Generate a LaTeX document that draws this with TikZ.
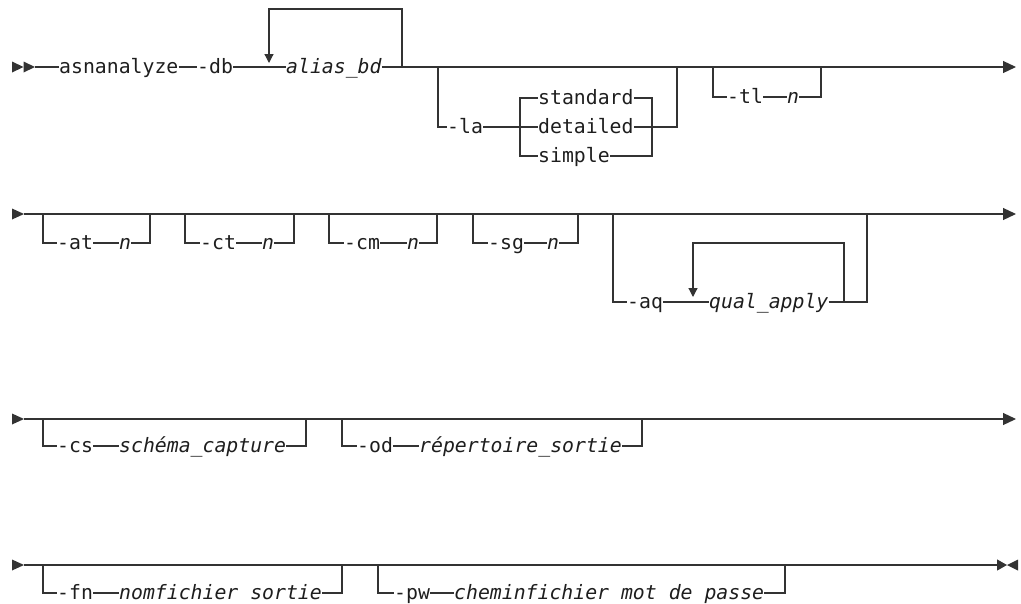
\documentclass[tikz,border=0pt]{standalone}
\usepackage{fontspec}
\usetikzlibrary{arrows.meta}
\newfontfamily\rr{DejaVu Sans Mono}
\definecolor{ln}{RGB}{51,51,51}
\definecolor{tx}{RGB}{30,30,30}
\tikzset{
  lbl/.style={inner sep=0pt, text height=13pt, text depth=0pt, anchor=west,
              font=\rr\fontsize{19.8}{22}\selectfont, text=tx},
  var/.style={lbl, font=\rr\itshape\fontsize{19.8}{22}\selectfont},
  rail/.style={draw=ln, line width=1.2pt},
  endarrow/.style={-{Triangle[length=13pt,width=12pt]}},
  looparrow/.style={-{Triangle[length=9pt,width=9pt]}},
  headtri/.style={fill=ln},
}
\begin{document}
\begin{tikzpicture}[x=1pt,y=-1pt]
\useasboundingbox (0,0) rectangle (1021,603);

% ---------------- row 1 ----------------
\fill[headtri] (12,61.5) -- (23.5,67) -- (12,72.5) -- cycle;
\fill[headtri] (23.5,61.5) -- (35,67) -- (23.5,72.5) -- cycle;
\coordinate (s1) at (35,67);
\coordinate (e1) at (1016,67);
\node[lbl] (asn) at (59,67) {asnanalyze};
\node[lbl] (db) at (197,67) {-db};
\node[var] (alias) at (286,67) {alias\_bd};
\draw[rail] (s1) -- (asn);
\draw[rail] (asn) -- (db);
\draw[rail] (db) -- (alias);
\draw[rail,endarrow] (alias) -- (e1);
% repeat loop
\coordinate (l1r) at (402,67);
\coordinate (l1t) at (269,9);
\coordinate (l1a) at (269,63);
\draw[rail,looparrow] (l1r) |- (l1t) -- (l1a);
% -la branch
\coordinate (la0) at (438,67);
\coordinate (la1) at (677,67);
\node[lbl] (la) at (447,127) {-la};
\coordinate (ch) at (520,127);
\coordinate (chr) at (652,127);
\node[lbl] (std) at (538,98) {standard};
\node[lbl] (det) at (538,127) {detailed};
\node[lbl] (sim) at (538,156) {simple};
\draw[rail] (la0) |- (la);
\draw[rail] (la) -- (ch);
\draw[rail] (std) -| (ch) |- (sim);
\draw[rail] (ch) -- (det);
\draw[rail] (std) -| (chr) |- (sim);
\draw[rail] (det) -- (chr) -| (la1);
% -tl branch
\coordinate (tl0) at (713,67);
\coordinate (tl1) at (821,67);
\node[lbl] (tl) at (727,97) {-tl};
\node[var] (tln) at (787,97) {n};
\draw[rail] (tl0) |- (tl);
\draw[rail] (tl) -- (tln);
\draw[rail] (tln) -| (tl1);

% ---------------- row 2 ----------------
\fill[headtri] (12,208.5) -- (24,214) -- (12,219.5) -- cycle;
\coordinate (s2) at (24,214);
\coordinate (e2) at (1016,214);
\draw[rail,endarrow] (s2) -- (e2);
% -at
\coordinate (at0) at (43,214);
\coordinate (at1) at (150,214);
\node[lbl] (at) at (57,243) {-at};
\node[var] (atn) at (119,243) {n};
\draw[rail] (at0) |- (at);
\draw[rail] (at) -- (atn);
\draw[rail] (atn) -| (at1);
% -ct
\coordinate (ct0) at (185,214);
\coordinate (ct1) at (294,214);
\node[lbl] (ct) at (200,243) {-ct};
\node[var] (ctn) at (262,243) {n};
\draw[rail] (ct0) |- (ct);
\draw[rail] (ct) -- (ctn);
\draw[rail] (ctn) -| (ct1);
% -cm
\coordinate (cm0) at (329,214);
\coordinate (cm1) at (437,214);
\node[lbl] (cm) at (344,243) {-cm};
\node[var] (cmn) at (407,243) {n};
\draw[rail] (cm0) |- (cm);
\draw[rail] (cm) -- (cmn);
\draw[rail] (cmn) -| (cm1);
% -sg
\coordinate (sg0) at (473,214);
\coordinate (sg1) at (578,214);
\node[lbl] (sg) at (488,243) {-sg};
\node[var] (sgn) at (547,243) {n};
\draw[rail] (sg0) |- (sg);
\draw[rail] (sg) -- (sgn);
\draw[rail] (sgn) -| (sg1);
% -aq
\coordinate (aq0) at (613,214);
\coordinate (aq1) at (867,214);
\node[lbl] (aq) at (627,302) {-aq};
\node[var] (qa) at (709,302) {qual\_apply};
\coordinate (qlr) at (844,302);
\coordinate (qlt) at (693,243);
\coordinate (qla) at (693,297);
\draw[rail] (aq0) |- (aq);
\draw[rail] (aq) -- (qa);
\draw[rail] (qa) -| (aq1);
\draw[rail,looparrow] (qlr) |- (qlt) -- (qla);

% ---------------- row 3 ----------------
\fill[headtri] (12,413.5) -- (24,419) -- (12,424.5) -- cycle;
\coordinate (s3) at (24,419);
\coordinate (e3) at (1016,419);
\draw[rail,endarrow] (s3) -- (e3);
% -cs
\coordinate (cs0) at (43,419);
\coordinate (cs1) at (306,419);
\node[lbl] (cs) at (57,446) {-cs};
\node[var] (csv) at (119,446) {schéma\_capture};
\draw[rail] (cs0) |- (cs);
\draw[rail] (cs) -- (csv);
\draw[rail] (csv) -| (cs1);
% -od
\coordinate (od0) at (342,419);
\coordinate (od1) at (642,419);
\node[lbl] (od) at (357,446) {-od};
\node[var] (odv) at (419,446) {répertoire\_sortie};
\draw[rail] (od0) |- (od);
\draw[rail] (od) -- (odv);
\draw[rail] (odv) -| (od1);

% ---------------- row 4 ----------------
\fill[headtri] (12,559.5) -- (24,565) -- (12,570.5) -- cycle;
\coordinate (s4) at (24,565);
\coordinate (e4) at (1007,565);
\draw[rail,-{Triangle[length=10pt,width=11pt]}] (s4) -- (e4);
\fill[headtri] (1018,559.5) -- (1007,565) -- (1018,570.5) -- cycle;
% -fn
\coordinate (fn0) at (43,565);
\coordinate (fn1) at (342,565);
\node[lbl] (fn) at (57,593) {-fn};
\node[var] (fnv) at (119,593) {nomfichier sortie};
\draw[rail] (fn0) |- (fn);
\draw[rail] (fn) -- (fnv);
\draw[rail] (fnv) -| (fn1);
% -pw
\coordinate (pw0) at (378,565);
\coordinate (pw1) at (785,565);
\node[lbl] (pw) at (394,593) {-pw};
\node[var] (pwv) at (454,593) {cheminfichier mot de passe};
\draw[rail] (pw0) |- (pw);
\draw[rail] (pw) -- (pwv);
\draw[rail] (pwv) -| (pw1);
\end{tikzpicture}
\end{document}
